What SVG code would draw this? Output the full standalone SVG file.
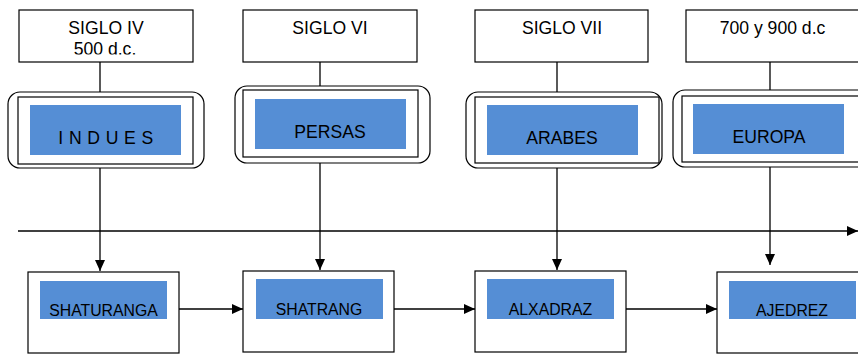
<svg xmlns="http://www.w3.org/2000/svg" width="858" height="354" viewBox="0 0 858 354">
<style>
.box{fill:#fff;stroke:#000;stroke-width:1.2}
.outer{fill:#fff;stroke:#000;stroke-width:1.2}
.blue{fill:#558ED5;stroke:none}
.t{font-family:"Liberation Sans",Arial,sans-serif;font-size:17.6px;fill:#000;text-anchor:middle}
.tb{font-family:"Liberation Sans",Arial,sans-serif;font-size:15.8px;fill:#000;text-anchor:middle}
.ln{stroke:#000;stroke-width:1.3;fill:none}
</style>
<defs>
<marker id="ah" markerUnits="userSpaceOnUse" markerWidth="12" markerHeight="12" viewBox="0 0 12 12" refX="11" refY="6" orient="auto">
<path d="M0,1 L11,6 L0,11 Z" fill="#000"/>
</marker>
<clipPath id="clip1"><rect x="19" y="10" width="174" height="44.6"/></clipPath>
</defs>
<rect width="858" height="354" fill="#fff"/>
<g id="connectors">
<line class="ln" x1="100" y1="62" x2="100" y2="92"/>
<line class="ln" x1="100" y1="168" x2="100" y2="271" marker-end="url(#ah)"/>
<line class="ln" x1="320" y1="62" x2="320" y2="86"/>
<line class="ln" x1="320" y1="163" x2="320" y2="270" marker-end="url(#ah)"/>
<line class="ln" x1="557" y1="62" x2="557" y2="92"/>
<line class="ln" x1="557" y1="168" x2="557" y2="270" marker-end="url(#ah)"/>
<line class="ln" x1="770" y1="62" x2="770" y2="90"/>
<line class="ln" x1="770" y1="167" x2="770" y2="265" marker-end="url(#ah)"/>
<line class="ln" x1="18" y1="231" x2="858" y2="231" marker-end="url(#ah)"/>
<line class="ln" x1="179" y1="309" x2="243" y2="309" marker-end="url(#ah)"/>
<line class="ln" x1="394" y1="309" x2="475" y2="309" marker-end="url(#ah)"/>
<line class="ln" x1="624" y1="309" x2="717" y2="309" marker-end="url(#ah)"/>
</g>
<g id="siglo4">
<rect class="box" x="19" y="10" width="174" height="52"/>
<text class="t" x="106" y="34">SIGLO IV</text>
<text class="t" x="105" y="55.3" clip-path="url(#clip1)">500 d.c.</text>
</g>
<g id="siglo6">
<rect class="box" x="243" y="10" width="174" height="52"/>
<text class="t" x="330" y="34">SIGLO VI</text>
</g>
<g id="siglo7">
<rect class="box" x="475" y="10" width="173" height="52"/>
<text class="t" x="562" y="34">SIGLO VII</text>
</g>
<g id="siglo700">
<rect class="box" x="686" y="10" width="174" height="52"/>
<text class="t" x="772.5" y="34">700 y 900 d.c</text>
</g>
<g id="indues">
<rect class="outer" x="8" y="92" width="196" height="76" rx="12"/>
<rect class="box" x="18" y="97" width="175" height="67"/>
<rect class="blue" x="30" y="105" width="151" height="50"/>
<text class="t" x="106" y="144" letter-spacing="0.4">I N D U E S</text>
</g>
<g id="persas">
<rect class="outer" x="235" y="86" width="195" height="77" rx="12"/>
<rect class="box" x="243" y="90" width="175" height="67"/>
<rect class="blue" x="255" y="99" width="151" height="50"/>
<text class="t" x="330" y="137.5">PERSAS</text>
</g>
<g id="arabes">
<rect class="outer" x="466" y="92" width="196" height="76" rx="12"/>
<rect class="box" x="475" y="97" width="184" height="66"/>
<rect class="blue" x="487" y="105" width="151" height="50"/>
<text class="t" x="562" y="144">ARABES</text>
</g>
<g id="europa">
<rect class="outer" x="673" y="90" width="200" height="77" rx="12"/>
<rect class="box" x="682" y="96" width="185" height="66"/>
<rect class="blue" x="693" y="104" width="151" height="50"/>
<text class="t" x="769" y="143">EUROPA</text>
</g>
<g id="shaturanga">
<rect class="box" x="28" y="272" width="151" height="81"/>
<rect class="blue" x="40" y="281" width="127" height="38"/>
<text class="tb" x="103.5" y="315.5">SHATURANGA</text>
</g>
<g id="shatrang">
<rect class="box" x="243" y="271" width="151" height="81"/>
<rect class="blue" x="256" y="279" width="127" height="40"/>
<text class="tb" x="319" y="314.5">SHATRANG</text>
</g>
<g id="alxadraz">
<rect class="box" x="475" y="271" width="151" height="81"/>
<rect class="blue" x="487" y="279" width="127" height="40"/>
<text class="tb" x="550.5" y="314.5">ALXADRAZ</text>
</g>
<g id="ajedrez">
<rect class="box" x="717" y="272" width="151" height="81"/>
<rect class="blue" x="729" y="281" width="127" height="38"/>
<text class="tb" x="792" y="315.5">AJEDREZ</text>
</g>
</svg>
